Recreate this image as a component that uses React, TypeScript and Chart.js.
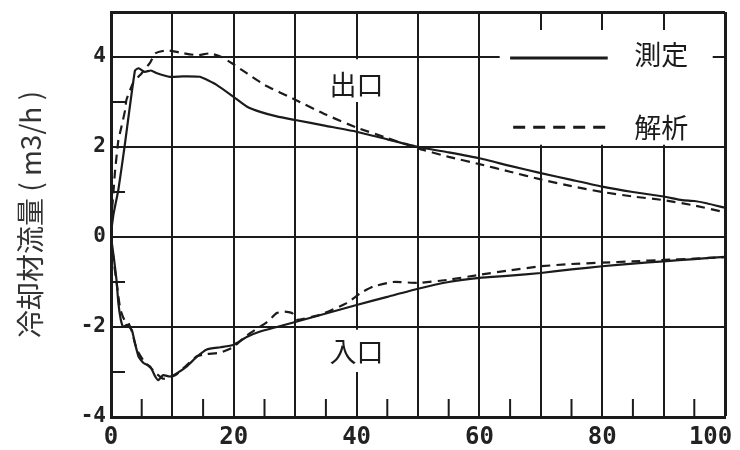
import React, { useEffect, useRef } from 'react';
import { Chart, registerables } from 'chart.js';

Chart.register(...registerables);

// ---- data ----
const outletMeasuredX = [0, 0.4, 1.2, 2.2, 3.9, 4.5, 5.5, 6.5, 7.5, 9.6, 11.7, 14.5, 17.2, 19.9, 22.1, 24.3, 27, 30, 35, 40, 45, 50, 55, 60, 65, 70, 75, 80, 85, 90, 93, 95, 97, 100];
const outletMeasuredY = [0.1, 0.5, 1.05, 2.0, 3.7, 3.75, 3.67, 3.7, 3.64, 3.56, 3.57, 3.56, 3.38, 3.12, 2.9, 2.78, 2.68, 2.6, 2.47, 2.34, 2.17, 2.0, 1.88, 1.75, 1.58, 1.42, 1.27, 1.12, 1.0, 0.9, 0.82, 0.8, 0.75, 0.65];

const outletAnalysisX = [0, 0.4, 0.65, 1.2, 1.7, 2.3, 2.5, 3.6, 5.0, 6.4, 7.2, 9.1, 11.2, 14.0, 16.1, 18, 19.7, 22.1, 25, 30, 35, 40, 45, 50, 55, 60, 65, 70, 75, 80, 85, 90, 95, 100];
const outletAnalysisY = [0.3, 1.0, 1.45, 2.15, 2.45, 2.82, 3.04, 3.42, 3.64, 3.88, 4.08, 4.15, 4.1, 4.04, 4.08, 4.0, 3.86, 3.64, 3.38, 3.05, 2.72, 2.43, 2.2, 1.97, 1.78, 1.62, 1.45, 1.28, 1.13, 1.0, 0.9, 0.82, 0.7, 0.55];

const inletMeasuredX = [0, 0.5, 0.9, 1.2, 1.6, 2.0, 2.6, 3.4, 3.9, 4.5, 5.3, 6.4, 7.2, 7.7, 8.5, 9.6, 10.7, 12.3, 14.0, 15.6, 17.8, 19.9, 22.1, 24.3, 27, 30, 35, 40, 45, 50, 55, 60, 65, 70, 75, 80, 85, 90, 95, 100];
const inletMeasuredY = [0, -0.5, -0.96, -1.47, -1.84, -2.0, -1.95, -2.07, -2.36, -2.66, -2.8, -2.88, -3.1, -3.18, -3.07, -3.1, -3.03, -2.88, -2.66, -2.5, -2.45, -2.4, -2.22, -2.1, -2.0, -1.89, -1.7, -1.51, -1.33, -1.15, -1.0, -0.91, -0.86, -0.8, -0.72, -0.65, -0.59, -0.54, -0.49, -0.44];

const inletAnalysisX = [0, 0.5, 1.0, 1.5, 2.2, 2.8, 3.4, 4.2, 5.3, 6.4, 7.5, 8.5, 9.6, 10.7, 12.3, 14.0, 15.6, 17.8, 19.9, 22, 25.4, 27, 28.3, 29.5, 30.3, 34, 38.4, 40.6, 42.7, 46, 50, 55, 60, 65, 70, 75, 80, 85, 90, 95, 100];
const inletAnalysisY = [0, -0.6, -1.1, -1.6, -1.85, -1.9, -2.1, -2.5, -2.75, -2.9, -3.05, -3.15, -3.12, -3.05, -2.85, -2.65, -2.6, -2.57, -2.45, -2.2, -1.89, -1.69, -1.66, -1.69, -1.84, -1.73, -1.47, -1.25, -1.1, -1.0, -1.02, -0.95, -0.84, -0.74, -0.65, -0.6, -0.57, -0.54, -0.51, -0.48, -0.45];

const xTickLabels = [0, 20, 40, 60, 80, 100];
const yTickLabels = [-4, -2, 0, 2, 4];
const seriesNames = ['測定', '解析'];
const regionNames = ['出口', '入口'];
const yAxisTitle = '冷却材流量 ( m3/h )';

const INK = '#1b1b1b';
const CJK = '"Noto Sans CJK JP", "Noto Sans CJK SC", sans-serif';
const MONO = '"DejaVu Sans Mono", "Liberation Mono", monospace';

const toPoints = (xs: number[], ys: number[]) => xs.map((x, i) => ({ x, y: ys[i] }));

const overlayPlugin = {
  id: 'overlay',
  beforeDatasetsDraw(chart: any) {
    const { ctx, scales } = chart;
    const xs = scales.x;
    const ys = scales.y;
    const px = (v: number) => xs.getPixelForValue(v);
    const py = (v: number) => ys.getPixelForValue(v);
    ctx.save();
    ctx.fillStyle = '#ffffff';
    // legend box
    ctx.fillRect(px(63.3), py(4.6), px(98) - px(63.3), py(2.05) - py(4.6));
    // region label boxes
    ctx.fillRect(px(34.5), py(3.95), px(45.8) - px(34.5), py(3.0) - py(3.95));
    ctx.fillRect(px(34.5), py(-2.06), px(45.8) - px(34.5), py(-3.0) - py(-2.06));

    // legend lines
    ctx.strokeStyle = INK;
    ctx.lineWidth = 3;
    ctx.beginPath();
    ctx.moveTo(px(65), py(3.98));
    ctx.lineTo(px(80.9), py(3.98));
    ctx.stroke();
    ctx.setLineDash([12, 8]);
    ctx.beginPath();
    ctx.moveTo(px(65.5), py(2.44));
    ctx.lineTo(px(81.5), py(2.44));
    ctx.stroke();
    ctx.setLineDash([]);

    // texts
    ctx.fillStyle = INK;
    ctx.font = `27px ${CJK}`;
    ctx.textBaseline = 'middle';
    ctx.textAlign = 'left';
    ctx.fillText(seriesNames[0], px(85.2), py(4.04));
    ctx.fillText(seriesNames[1], px(85.2), py(2.43));
    ctx.textAlign = 'center';
    ctx.fillText(regionNames[0], px(40), py(3.39));
    ctx.fillText(regionNames[1], px(40), py(-2.56));

    // minor ticks (inside)
    ctx.lineWidth = 2;
    ctx.strokeStyle = INK;
    const area = chart.chartArea;
    for (let v = 5; v < 100; v += 10) {
      ctx.beginPath();
      ctx.moveTo(px(v), area.bottom);
      ctx.lineTo(px(v), area.bottom - 18);
      ctx.stroke();
    }
    for (let v = -3; v < 5; v += 2) {
      ctx.beginPath();
      ctx.moveTo(area.left, py(v));
      ctx.lineTo(area.left + 14, py(v));
      ctx.stroke();
    }
    ctx.restore();
  },
};

const bgPlugin = {
  id: 'bg',
  beforeDraw(chart: any) {
    const { ctx, width, height } = chart;
    ctx.save();
    ctx.fillStyle = '#ffffff';
    ctx.fillRect(0, 0, width, height);
    ctx.restore();
  },
};

export default function App() {
  const ref = useRef<HTMLCanvasElement | null>(null);

  useEffect(() => {
    if (!ref.current) return;
    const lineBase = {
      borderColor: INK,
      borderWidth: 2.2,
      pointRadius: 0,
      fill: false,
      tension: 0.15,
    };
    const chart = new Chart(ref.current, {
      type: 'line',
      data: {
        datasets: [
          { ...lineBase, label: seriesNames[0] + regionNames[0], data: toPoints(outletMeasuredX, outletMeasuredY) },
          { ...lineBase, label: seriesNames[1] + regionNames[0], data: toPoints(outletAnalysisX, outletAnalysisY), borderDash: [9, 6] },
          { ...lineBase, label: seriesNames[0] + regionNames[1], data: toPoints(inletMeasuredX, inletMeasuredY) },
          { ...lineBase, label: seriesNames[1] + regionNames[1], data: toPoints(inletAnalysisX, inletAnalysisY), borderDash: [9, 6] },
        ],
      },
      options: {
        animation: false,
        responsive: false,
        devicePixelRatio: 1,
        layout: { padding: { left: 0, top: 12, right: 15, bottom: 0 } },
        plugins: { legend: { display: false }, tooltip: { enabled: false } },
        scales: {
          x: {
            type: 'linear',
            min: 0,
            max: 100,
            afterFit: (s: any) => {
              s.height = 33;
              s.paddingLeft = 0;
              s.paddingRight = 0;
            },
            ticks: {
              stepSize: 10,
              autoSkip: false,
              maxRotation: 0,
              padding: 6,
              color: '#222',
              font: { family: MONO, size: 24, weight: 'bold' },
              callback: (v: any) => {
                const n = Number(v);
                if (!xTickLabels.includes(n)) return '';
                return n === 100 ? '100  ' : String(n);
              },
            },
            grid: {
              color: INK,
              lineWidth: (c: any) => (c.tick && c.tick.value === 100 ? 3 : 2),
              drawTicks: false,
            },
            border: { display: true, color: INK, width: 3 },
          },
          y: {
            type: 'linear',
            min: -4,
            max: 5,
            afterFit: (s: any) => {
              s.width = 111;
              s.paddingTop = 0;
              s.paddingBottom = 0;
            },
            ticks: {
              stepSize: 1,
              autoSkip: false,
              padding: 5,
              color: '#222',
              font: { family: MONO, size: 21, weight: 'bold' },
              callback: (v: any) => (yTickLabels.includes(Number(v)) ? String(v) : ''),
            },
            grid: {
              color: (c: any) => {
                const v = c.tick ? c.tick.value : 0;
                return v % 2 === 0 || v === 5 ? INK : 'rgba(0,0,0,0)';
              },
              lineWidth: (c: any) => (c.tick && c.tick.value === 5 ? 3 : 2),
              drawTicks: false,
            },
            border: { display: true, color: INK, width: 3 },
            title: {
              display: true,
              text: yAxisTitle,
              color: '#333',
              font: { family: CJK, size: 28 },
              padding: { top: 14, bottom: 0 },
            },
          },
        },
      },
      plugins: [bgPlugin, overlayPlugin],
    } as any);
    return () => chart.destroy();
  }, []);

  return (
    <div style={{ position: 'absolute', left: 0, top: 0, width: 740, height: 450 }}>
      <canvas ref={ref} width={740} height={450} style={{ display: 'block', width: 740, height: 450 }} />
    </div>
  );
}
